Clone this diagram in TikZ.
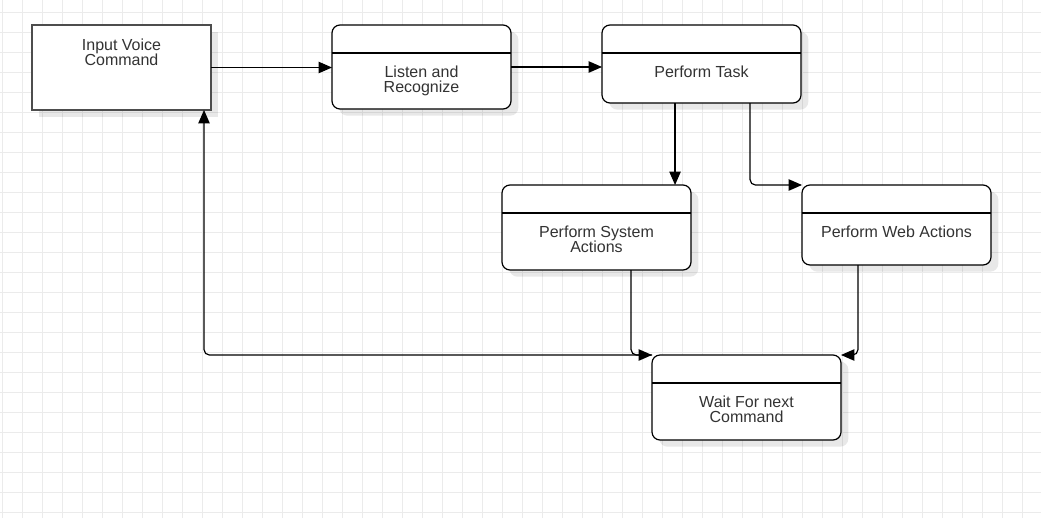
\documentclass[tikz,border=0pt]{standalone}
\usepackage{fontspec}
\setmainfont{Liberation Sans}
\usetikzlibrary{arrows.meta,calc,positioning,shadows}

\definecolor{gridgray}{HTML}{EBEBEB}
\definecolor{txtgray}{HTML}{333333}
\definecolor{boxedge}{HTML}{4D4D4D}

\tikzset{
  gridline/.style={draw=gridgray,line width=0.75pt},
  boxshadow/.style={drop shadow={shadow xshift=5.5pt,shadow yshift=-5pt,fill=black,opacity=0.09}},
  statebox/.style={draw=black,line width=0.9pt,fill=white,rounded corners=6pt,
    anchor=north west,outer sep=0pt,inner sep=0pt,boxshadow},
  plainbox/.style={draw=boxedge,line width=1.5pt,fill=white,
    anchor=north west,outer sep=0pt,inner sep=0pt,boxshadow},
  lbl/.style={inner sep=0pt,align=center,text=txtgray,font=\fontsize{12}{11.5}\selectfont},
  flow/.style={->,draw=black,line width=0.9pt,rounded corners=4pt}
}

\begin{document}
\begin{tikzpicture}[x=0.75pt,y=-0.75pt,>={Triangle[length=10pt,width=8.5pt]}]
\useasboundingbox (0,0) rectangle (1041,518);
\fill[white] (0,0) rectangle (1041,518);
% background grid
\foreach \gx in {2,22,...,1022} \draw[gridline] (\gx,0) -- (\gx,518);
\foreach \gy in {12,32,...,512} \draw[gridline] (0,\gy) -- (1041,\gy);

% boxes
\node[plainbox,minimum width=134.25pt,minimum height=63.75pt] (input) at (32,25) {};
\node[statebox,minimum width=134.25pt,minimum height=63pt] (listen) at (332,25) {};
\node[statebox,minimum width=149.25pt,minimum height=58.5pt] (task) at (602,25) {};
\node[statebox,minimum width=141.75pt,minimum height=63.75pt] (system) at (502,185) {};
\node[statebox,minimum width=141.75pt,minimum height=60pt] (web) at (802,185) {};
\node[statebox,minimum width=141.75pt,minimum height=63.75pt] (wait) at (652,355) {};

% header lines
\foreach \b in {listen,task,system,web,wait}
  \draw[line width=0.9pt] ([yshift=-21pt]\b.north west) -- ([yshift=-21pt]\b.north east);

% texts
\node[lbl,below=10.2pt of input.north] (inputlbl) {Input Voice\\Command};
\node[lbl,below=30.5pt of listen.north] (listenlbl) {Listen and\\Recognize};
\node[lbl,below=30.5pt of task.north] (tasklbl) {Perform Task};
\node[lbl,below=30.5pt of system.north] (systemlbl) {Perform System\\Actions};
\node[lbl,below=30.5pt of web.north] (weblbl) {Perform Web Actions};
\node[lbl,below=30.5pt of wait.north] (waitlbl) {Wait For next\\Command};

% connectors
\coordinate (taskA) at ($(task.south west)!0.367!(task.south east)$);
\coordinate (taskB) at ($(task.south west)!0.744!(task.south east)$);
\coordinate (sysout) at ($(system.south west)!0.683!(system.south east)$);
\coordinate (webout) at ($(web.south west)!0.296!(web.south east)$);
\coordinate (inputin) at ($(input.south west)!0.961!(input.south east)$);

\draw[flow] (input.east) -- (input.east -| listen.west);
\draw[flow] (listen.east) -- (listen.east -| task.west);
\draw[flow] (taskA) -- (taskA |- system.north);
\draw[flow] (taskB) |- (web.north west);
\draw[flow] (sysout) |- (wait.north west);
\draw[flow] (webout) |- (wait.north east);
\draw[flow] (wait.north west) -| (inputin);
\end{tikzpicture}
\end{document}
